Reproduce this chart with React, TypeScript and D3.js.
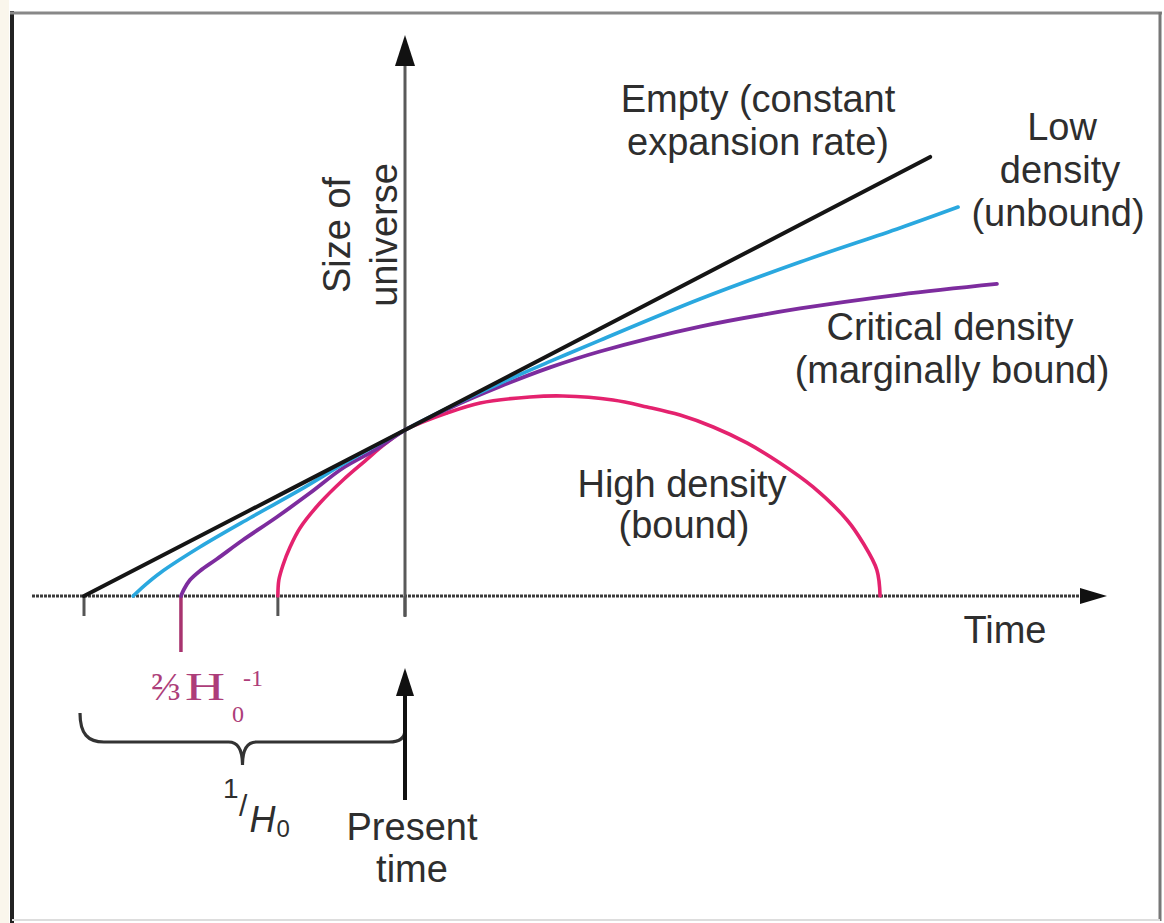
import { useEffect, useRef } from 'react';
import * as d3 from 'd3';

type Pt = [number, number];

// time in units of 1/H0 (0 = present), size of universe relative to today
const emptyCurve: Pt[] = [[-1, 0], [0, 1], [1.636, 2.645]];

const lowDensity: Pt[] = [
  [-0.847, 0], [-0.81, 0.066], [-0.763, 0.139], [-0.639, 0.295], [-0.483, 0.47],
  [-0.327, 0.639], [-0.171, 0.819], [0, 1], [0.14, 1.139], [0.296, 1.281],
  [0.452, 1.413], [0.607, 1.54], [0.919, 1.789], [1.231, 2.012], [1.542, 2.217],
  [1.723, 2.343],
];

const criticalDensity: Pt[] = [
  [-0.698, 0], [-0.688, 0.042], [-0.67, 0.096], [-0.639, 0.151], [-0.586, 0.223],
  [-0.505, 0.337], [-0.399, 0.476], [-0.296, 0.62], [-0.193, 0.771], [-0.093, 0.88],
  [0, 1], [0.14, 1.133], [0.296, 1.262], [0.452, 1.377], [0.607, 1.473],
  [0.919, 1.623], [1.231, 1.732], [1.542, 1.816], [1.844, 1.88],
];

const highDensity: Pt[] = [
  [-0.396, 0], [-0.393, 0.096], [-0.38, 0.187], [-0.358, 0.295], [-0.327, 0.41],
  [-0.265, 0.56], [-0.193, 0.699], [-0.125, 0.813], [-0.062, 0.916], [0, 1],
  [0.131, 1.102], [0.234, 1.163], [0.389, 1.199], [0.492, 1.205], [0.648, 1.181],
  [0.754, 1.139], [0.857, 1.09], [0.96, 1.018], [1.065, 0.922], [1.168, 0.801],
  [1.271, 0.657], [1.377, 0.458], [1.427, 0.319], [1.47, 0.157], [1.48, 0],
];

const tickTimes = [-1, -0.396, 0];
const criticalStart = -0.698;

const W = 1164;
const H = 923;
const FONT = '"Liberation Sans", Arial, Helvetica, sans-serif';
const TEXT = '#2e2e2e';

export default function App() {
  const svgRef = useRef<SVGSVGElement>(null);

  useEffect(() => {
    if (!svgRef.current) return;
    const svg = d3.select(svgRef.current);
    svg.selectAll('*').remove();

    const x = d3.scaleLinear().domain([-1, 0]).range([84, 405]);
    const y = d3.scaleLinear().domain([0, 1]).range([596, 430]);
    const x0 = x(0);
    const y0 = y(0);

    // page + frame
    svg.append('rect').attr('width', W).attr('height', H).attr('fill', '#fff');
    svg.append('rect').attr('x', 0).attr('y', 0).attr('width', 9).attr('height', H).attr('fill', '#faf6ec');
    svg.append('line').attr('x1', 12).attr('x2', 12).attr('y1', 11).attr('y2', H)
      .attr('stroke', '#222').attr('stroke-width', 4);
    svg.append('line').attr('x1', 10).attr('x2', 1162).attr('y1', 13).attr('y2', 13)
      .attr('stroke', '#888').attr('stroke-width', 3);
    svg.append('line').attr('x1', 1160).attr('x2', 1160).attr('y1', 12).attr('y2', 921)
      .attr('stroke', '#777').attr('stroke-width', 3);
    svg.append('line').attr('x1', 12).attr('x2', 1160).attr('y1', 920).attr('y2', 920)
      .attr('stroke', '#ddd').attr('stroke-width', 2);

    // x axis (time)
    svg.append('line').attr('x1', 32).attr('x2', 1085).attr('y1', y0).attr('y2', y0)
      .attr('stroke', '#3a3a3a').attr('stroke-width', 3).attr('stroke-dasharray', '3,1');
    svg.append('path').attr('d', `M1107,${y0} L1080,${y0 - 8} L1080,${y0 + 8} Z`).attr('fill', '#111');

    // y axis (size)
    svg.append('line').attr('x1', x0).attr('x2', x0).attr('y1', 617).attr('y2', 60)
      .attr('stroke', '#5a5a5a').attr('stroke-width', 3);
    svg.append('path').attr('d', `M${x0},35 L${x0 - 10},66 L${x0 + 10},66 Z`).attr('fill', '#111');

    // ticks below the axis
    svg.selectAll('line.tick').data(tickTimes).join('line')
      .attr('class', 'tick')
      .attr('x1', d => x(d)).attr('x2', d => x(d))
      .attr('y1', y0).attr('y2', 616)
      .attr('stroke', '#555').attr('stroke-width', 3);
    svg.append('line')
      .attr('x1', x(criticalStart)).attr('x2', x(criticalStart))
      .attr('y1', y0).attr('y2', 652)
      .attr('stroke', '#a8336f').attr('stroke-width', 3.5);

    // curves
    const line = d3.line<Pt>()
      .x(d => x(d[0]))
      .y(d => y(d[1]))
      .curve(d3.curveCatmullRom.alpha(0.5));

    const series = [
      { data: highDensity, color: '#e4226e', w: 3.6 },
      { data: criticalDensity, color: '#7d2c9e', w: 3.8 },
      { data: lowDensity, color: '#2aa8df', w: 3.6 },
      { data: emptyCurve, color: '#151515', w: 4 },
    ];
    svg.selectAll('path.curve').data(series).join('path')
      .attr('class', 'curve')
      .attr('d', d => line(d.data))
      .attr('fill', 'none')
      .attr('stroke', d => d.color)
      .attr('stroke-width', d => d.w)
      .attr('stroke-linecap', 'round');

    // brace spanning 1/H0
    const bl = x(-1) - 4;
    const br = x0;
    const bm = (bl + br) / 2;
    const by = 742;
    svg.append('path')
      .attr('d', `M${bl},713 C${bl},734 ${bl + 8},${by} ${bl + 24},${by} L${bm - 14},${by} `
        + `C${bm - 4},${by} ${bm},${by + 8} ${bm},${by + 23} C${bm},${by + 8} ${bm + 4},${by} ${bm + 14},${by} `
        + `L${br - 16},${by} C${br - 6},${by} ${br},${by - 4} ${br},${by - 12}`)
      .attr('fill', 'none').attr('stroke', '#333').attr('stroke-width', 3.2);

    // present time arrow
    svg.append('line').attr('x1', x0).attr('x2', x0).attr('y1', 800).attr('y2', 690)
      .attr('stroke', '#111').attr('stroke-width', 4);
    svg.append('path').attr('d', `M${x0},668 L${x0 - 9},696 L${x0 + 9},696 Z`).attr('fill', '#111');

    // text labels
    const label = (tx: number, ty: number, s: string, anchor = 'middle') =>
      svg.append('text').attr('x', tx).attr('y', ty).attr('text-anchor', anchor)
        .attr('font-family', FONT).attr('font-size', 38).attr('fill', TEXT).text(s);

    label(758, 112, 'Empty (constant');
    label(758, 155, 'expansion rate)');
    label(1062, 140, 'Low');
    label(1060, 183, 'density');
    label(1058, 226, '(unbound)');
    label(950, 340, 'Critical density');
    label(952, 383, '(marginally bound)');
    label(682, 497, 'High density');
    label(684, 538, '(bound)');
    label(1005, 643, 'Time');
    label(412, 840, 'Present');
    label(412, 882, 'time');

    const ylab = svg.append('g').attr('transform', 'translate(350,235) rotate(-90)');
    ylab.append('text').attr('text-anchor', 'middle').attr('font-family', FONT)
      .attr('font-size', 38).attr('fill', TEXT).text('Size of');
    ylab.append('text').attr('text-anchor', 'middle').attr('y', 47).attr('font-family', FONT)
      .attr('font-size', 38).attr('fill', TEXT).text('universe');

    // 1/H0 as one text with shifted parts
    const frac = svg.append('text').attr('x', 223).attr('y', 798)
      .attr('font-family', FONT).attr('fill', TEXT);
    frac.append('tspan').attr('font-size', 28).text('1');
    frac.append('tspan').attr('font-size', 30).attr('dx', 0.5).attr('dy', 18).text('/');
    frac.append('tspan').attr('font-size', 36).attr('font-style', 'italic').attr('dx', 2).attr('dy', 16).text('H');
    frac.append('tspan').attr('font-size', 24).attr('dx', 1).attr('dy', 5).text('0');

    // 2/3 H0^-1 in serif magenta
    const SERIF = '"Liberation Serif", "DejaVu Serif", serif';
    const MAG = '#ad3d79';
    svg.append('text').attr('x', 151).attr('y', 700).attr('font-family', SERIF)
      .attr('font-size', 40).attr('fill', MAG)
      .attr('textLength', 30).attr('lengthAdjust', 'spacingAndGlyphs').text('⅔');
    svg.append('text').attr('x', 185).attr('y', 700).attr('font-family', SERIF)
      .attr('font-size', 40).attr('fill', MAG)
      .attr('textLength', 40).attr('lengthAdjust', 'spacingAndGlyphs').text('H');
    svg.append('text').attr('x', 232).attr('y', 722).attr('font-family', SERIF)
      .attr('font-size', 24).attr('fill', MAG).text('0');
    svg.append('text').attr('x', 243).attr('y', 686).attr('font-family', SERIF)
      .attr('font-size', 24).attr('fill', MAG).text('-1');
  }, []);

  return (
    <svg
      ref={svgRef}
      width={W}
      height={H}
      style={{ position: 'absolute', left: 0, top: 0, display: 'block' }}
    />
  );
}
